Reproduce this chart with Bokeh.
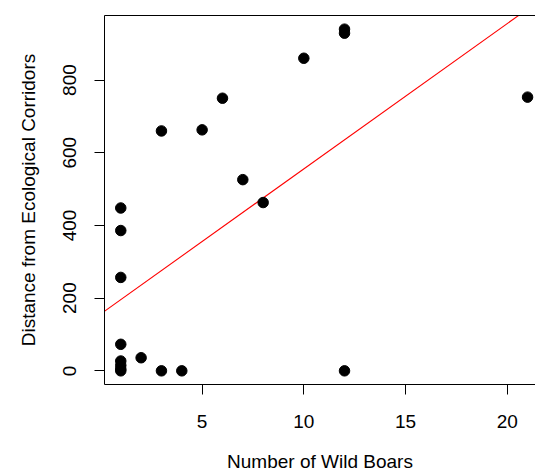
import numpy as np
from bokeh.plotting import figure
from bokeh.models import Range1d, FixedTicker, LinearAxis
from bokeh.embed import file_html
from bokeh.resources import INLINE

# Data
boars = [1, 1, 1, 1, 1, 1, 1, 1, 2, 3, 4, 3, 5, 6, 7, 8, 10, 12, 12, 12, 21]
distance = [448, 386, 257, 73, 27, 15, 5, 0, 36, 0, 0, 660, 663, 750, 526, 463, 860, 940, 929, 0, 753]
x_ticks = [5, 10, 15, 20]
y_ticks = [0, 200, 400, 600, 800]
x_title = "Number of Wild Boars"
y_title = "Distance from Ecological Corridors"

FONT = "Liberation Sans"

# R-style 4% axis expansion
xr = max(boars) - min(boars)
yr = max(distance) - min(distance)
x0 = min(boars) - 0.04 * xr
y0 = min(distance) - 0.04 * yr
y1 = max(distance) + 0.04 * yr
x1 = 21.39  # the plot box runs past the right edge of the image

p = figure(width=535, height=475, output_backend="svg", toolbar_location=None,
           x_range=Range1d(x0, x1), y_range=Range1d(y0, y1),
           min_border_left=104, min_border_right=0, min_border_top=15, min_border_bottom=91)
p.background_fill_color = "white"
p.border_fill_color = "white"
p.outline_line_color = None
p.grid.visible = False

# regression line (least squares fit of the data)
slope, intercept = np.polyfit(boars, distance, 1)
lx = [x0 - 1, x1 + 1]
ly = [intercept + slope * v for v in lx]
p.line(lx, ly, line_color="#FF0000", line_width=1.1)

p.scatter(boars, distance, size=10.5, marker="circle", fill_color="black", line_color="black")

for ax in (p.xaxis[0], p.yaxis[0]):
    ax.axis_line_color = "black"
    ax.axis_line_width = 1
    ax.major_tick_line_color = "black"
    ax.major_tick_in = 0
    ax.major_tick_out = 10
    ax.minor_tick_line_color = None
    ax.major_label_text_font = FONT
    ax.major_label_text_font_size = "19px"
    ax.major_label_text_color = "black"
    ax.axis_label_text_font = FONT
    ax.axis_label_text_font_size = "19px"
    ax.axis_label_text_font_style = "normal"
    ax.axis_label_text_color = "black"

p.xaxis[0].ticker = FixedTicker(ticks=x_ticks)
p.yaxis[0].ticker = FixedTicker(ticks=y_ticks)
p.xaxis[0].axis_label = x_title
p.yaxis[0].axis_label = y_title
p.yaxis[0].major_label_orientation = "vertical"
p.xaxis[0].major_label_standoff = 20
p.xaxis[0].axis_label_standoff = 20
p.xaxis[0].axis_label_text_line_height = 0.75
p.xaxis[0].major_label_text_line_height = 0.9
p.yaxis[0].major_label_standoff = 18
p.yaxis[0].axis_label_standoff = 22

# top side of the box
top = LinearAxis(ticker=FixedTicker(ticks=[]), axis_line_color="black",
                 major_tick_line_color=None, minor_tick_line_color=None,
                 major_label_text_font_size="0px")
p.add_layout(top, "above")

open("out.html", "w").write(file_html(p, INLINE))
